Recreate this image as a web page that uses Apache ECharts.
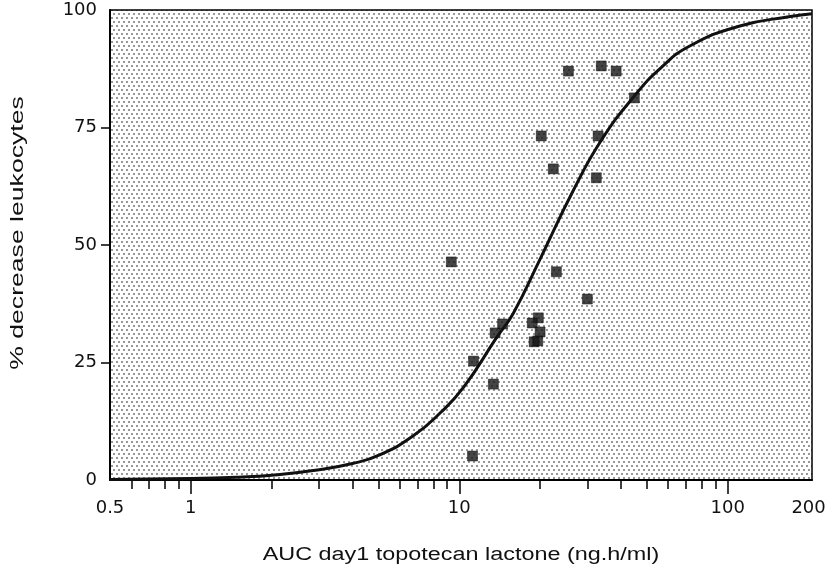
<!DOCTYPE html>
<html>
<head>
<meta charset="utf-8">
<script src="https://cdn.jsdelivr.net/npm/echarts@6/dist/echarts.min.js"></script>
<style>
  html, body { margin: 0; padding: 0; background: #fff; }
  #chart { width: 835px; height: 578px; }
</style>
</head>
<body>
<div id="chart"></div>
<script>
// Axis tick values and labels
const xTickLabels = [0.5, 1, 10, 100, 200];
const xMajorTicks = [1, 10, 100];
const xMinorTicks = [0.6, 0.7, 0.8, 0.9, 2, 3, 4, 5, 6, 7, 8, 9, 20, 30, 40, 50, 60, 70, 80, 90];
const yTickLabels = [0, 25, 50, 75, 100];
const yTicks = [25, 50, 75];

// Observed patients: AUC day 1 (ng.h/ml) and % decrease in leukocytes
const aucValues = [25.5, 33.8, 38.4, 44.9, 20.2, 32.9, 22.4, 32.4, 9.34, 23.0, 30.0,
                   19.7, 18.7, 14.5, 13.6, 20.0, 19.0, 19.6, 11.3, 13.4, 11.2];
const decreaseValues = [87.0, 88.1, 87.0, 81.3, 73.2, 73.2, 66.2, 64.3, 46.4, 44.3, 38.5,
                        34.5, 33.4, 33.2, 31.3, 31.5, 29.4, 29.6, 25.3, 20.4, 5.1];

// Fitted sigmoid response curve
const curveAuc = [0.5, 1, 1.5, 2, 2.86, 4, 5.08, 6.74, 8.5, 10.4, 13.8, 15.9, 20, 26.7,
                  34, 44.9, 56.1, 72.5, 111, 171, 206];
const curveDecrease = [0.1, 0.3, 0.6, 1.0, 2.0, 3.5, 5.4, 9.4, 14.3, 19.8, 30.4, 35.5, 47,
                       61.8, 72.5, 81.7, 87.6, 92.4, 96.6, 98.6, 99.2];

const xTitle = 'AUC day1 topotecan lactone (ng.h/ml)';
const yTitle = '% decrease leukocytes';

// Stippled fill for the plotting area
function stipple() {
  const c = document.createElement('canvas');
  c.width = 10; c.height = 8;
  const g = c.getContext('2d');
  g.fillStyle = '#ffffff';
  g.fillRect(0, 0, 10, 8);
  g.fillStyle = 'rgba(0,0,0,0.4)';
  [[1, 1], [6, 1], [3, 5], [8, 5]].forEach(p => g.fillRect(p[0], p[1], 2, 2));
  return { image: c, repeat: 'repeat' };
}

const font = '"Liberation Sans", Arial, Helvetica, sans-serif';
const tickFont = '"DejaVu Sans", Verdana, sans-serif';
const chart = echarts.init(document.getElementById('chart'), null, { renderer: 'canvas' });

const xCommon = { type: 'log', logBase: 10, min: 0.5, max: 206, position: 'bottom', splitLine: { show: false } };

chart.setOption({
  animation: false,
  backgroundColor: '#ffffff',
  grid: {
    left: 110, right: 23, top: 10, bottom: 98,
    show: true,
    backgroundColor: stipple(),
    borderColor: '#000', borderWidth: 1.5
  },
  // Axis titles, set in a wide typeface
  graphic: [
    {
      type: 'text',
      x: 461, y: 555,
      scaleX: 1.3,
      style: { text: xTitle, font: '18px ' + font, fill: '#111', align: 'center', verticalAlign: 'middle' }
    },
    {
      type: 'text',
      x: 18, y: 233,
      rotation: Math.PI / 2,
      scaleX: 1.4,
      style: { text: yTitle, font: '19px ' + font, fill: '#111', align: 'center', verticalAlign: 'middle' }
    }
  ],
  xAxis: [
    Object.assign({}, xCommon, {
      axisLine: { show: true, lineStyle: { color: '#000', width: 2 } },
      axisTick: { show: true, inside: false, length: 14, customValues: xMajorTicks, lineStyle: { color: '#000', width: 1.5 } },
      axisLabel: { customValues: xTickLabels, margin: 19, fontFamily: tickFont, fontSize: 18, color: '#111',
                   formatter: v => String(+Number(v).toPrecision(6)) }
    }),
    Object.assign({}, xCommon, {
      axisLine: { show: false },
      axisTick: { show: true, inside: false, length: 9, customValues: xMinorTicks, lineStyle: { color: '#000', width: 1.5 } },
      axisLabel: { show: false }
    })
  ],
  yAxis: {
    type: 'value', min: 0, max: 100, interval: 25,
    splitLine: { show: false },
    axisLine: { show: true, lineStyle: { color: '#000', width: 2 } },
    axisTick: { show: true, inside: false, length: 9, customValues: yTicks, lineStyle: { color: '#000', width: 1.5 } },
    axisLabel: { customValues: yTickLabels, margin: 13, fontFamily: tickFont, fontSize: 18, color: '#111' }
  },
  series: [
    {
      type: 'line',
      xAxisIndex: 0,
      data: curveAuc.map((x, i) => [x, curveDecrease[i]]),
      smooth: true,
      showSymbol: false,
      lineStyle: { color: '#111', width: 3 },
      z: 2
    },
    {
      type: 'scatter',
      xAxisIndex: 0,
      data: aucValues.map((x, i) => [x, decreaseValues[i]]),
      symbol: 'rect',
      symbolSize: 10,
      itemStyle: { color: '#161616', borderColor: '#000', borderWidth: 0.5 },
      z: 3
    }
  ]
});
</script>
</body>
</html>
